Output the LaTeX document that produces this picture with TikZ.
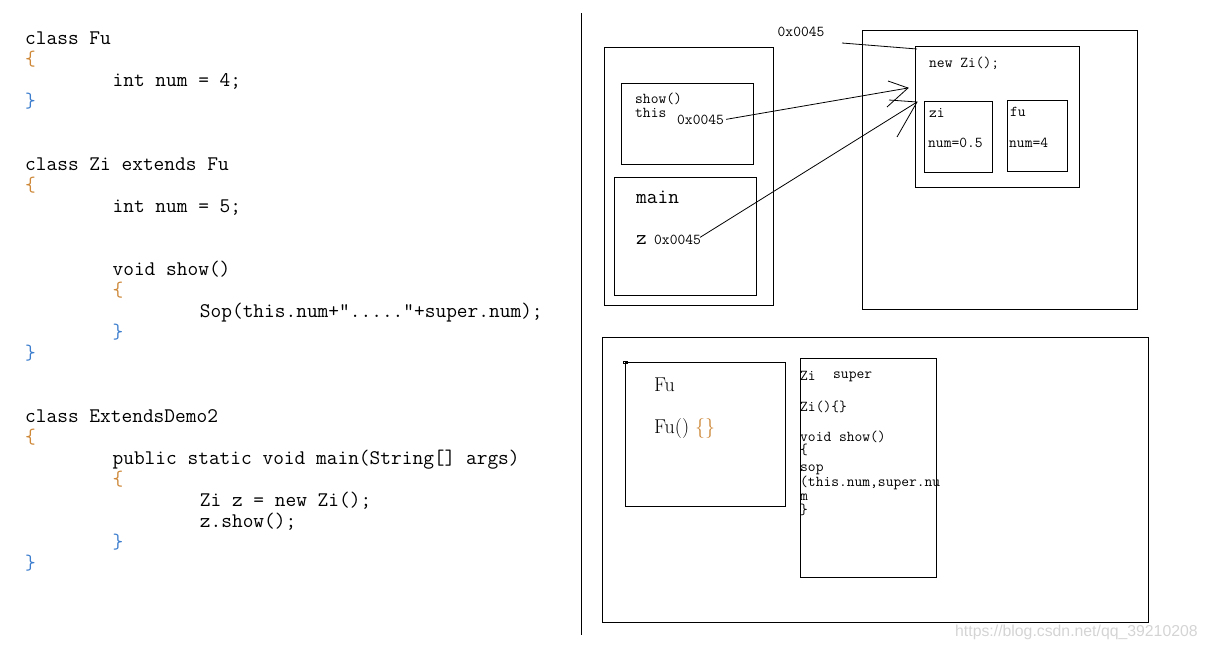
\documentclass[tikz,border=0pt]{standalone}
\usepackage{fontspec}
\newfontfamily\wmfont{Liberation Sans}
\newcommand\codefont{\fontsize{20.8}{21}\selectfont\ttfamily}
\newcommand\smallmono{\fontsize{15.1}{16}\selectfont\ttfamily}
\newcommand\bigserif{\fontsize{20}{22}\selectfont\rmfamily}
\definecolor{braceopen}{RGB}{205,135,55}
\definecolor{braceclose}{RGB}{60,125,205}
\definecolor{wmgray}{RGB}{212,212,212}
\tikzset{
  code/.style={anchor=base west, inner sep=0pt, font=\codefont},
  mono/.style={anchor=base west, inner sep=0pt, font=\smallmono},
  serif/.style={anchor=base west, inner sep=0pt, font=\bigserif},
  frame/.style={draw, line width=1pt, inner sep=0pt, outer sep=0pt},
  wire/.style={line width=0.8pt},
}
\begin{document}
\begin{tikzpicture}[x=1pt, y=-1pt]
\useasboundingbox (0,0) rectangle (1207,648);

% ---------- source code ----------
\node[code] (c1) at (25,44) {class Fu};
\node[code, text=braceopen] (c2) at (25,65) {\{};
\node[code] (c3) at (112.4,86) {int num = 4;};
\node[code, text=braceclose] (c4) at (25,107) {\}};
\node[code] (c5) at (25,170) {class Zi extends Fu};
\node[code, text=braceopen] (c6) at (25,191) {\{};
\node[code] (c7) at (112.4,212) {int num = 5;};
\node[code] (c8) at (112.4,275) {void show()};
\node[code, text=braceopen] (c9) at (112.4,296) {\{};
\node[code] (c10) at (199.7,317) {Sop(this.num+”.....”+super.num);};
\node[code, text=braceclose] (c11) at (112.4,338) {\}};
\node[code, text=braceclose] (c12) at (25,359) {\}};
\node[code] (c13) at (25,422) {class ExtendsDemo2};
\node[code, text=braceopen] (c14) at (25,443) {\{};
\node[code] (c15) at (112.4,464) {public static void main(String[] args)};
\node[code, text=braceopen] (c16) at (112.4,485) {\{};
\node[code] (c17) at (199.7,506) {Zi z = new Zi();};
\node[code] (c18) at (199.7,527) {z.show();};
\node[code, text=braceclose] (c19) at (112.4,548) {\}};
\node[code, text=braceclose] (c20) at (25,569) {\}};

% ---------- divider ----------
\draw[line width=1pt] (581,13) -- (581,635);

% ---------- stack ----------
\node[frame, minimum width=169pt, minimum height=258pt] (stack) at (688.5,176) {};
\node[frame, minimum width=132pt, minimum height=81pt] (showf) at (687,123.5) {};
\node[frame, minimum width=142pt, minimum height=118pt] (mainf) at (685,236) {};
\node[mono] (showlbl) at (635,103) {show()};
\node[mono] (thislbl) at (635,117.5) {this};
\node[mono] (thisaddr) at (677,124) {0x0045};
\node[code] (mainlbl) at (636,203) {main};
\node[code] (zlbl) at (636,244) {z};
\node[mono] (zaddr) at (654,244) {0x0045};

% ---------- heap ----------
\node[frame, minimum width=275pt, minimum height=279pt] (heap) at (999.5,169.5) {};
\node[frame, minimum width=164pt, minimum height=141pt] (obj) at (997,116.5) {};
\node[frame, minimum width=68pt, minimum height=71pt] (zipart) at (958,136.5) {};
\node[frame, minimum width=60pt, minimum height=71pt] (fupart) at (1037,135.5) {};
\node[mono] (newlbl) at (929,67) {new Zi();};
\node[mono] (zilbl) at (929,117) {zi};
\node[mono] (zinum) at (928,147.5) {num=0.5};
\node[mono] (fulbl) at (1010,116) {fu};
\node[mono] (funum) at (1009,147) {num=4};
\node[mono] (objaddr) at (777.5,36.5) {0x0045};

% address line to the object
\coordinate (addrtail) at (842,43);
\coordinate (objtip) at (917,49);
\draw[wire] (addrtail) -- (objtip);

% this -> object
\coordinate (tip1) at (908,88);
\coordinate (tip1a) at (888,81);
\coordinate (tip1b) at (887,107);
\draw[wire] ([xshift=2pt]thisaddr.east) -- (tip1);
\draw[wire] (tip1a) -- (tip1) -- (tip1b);

% z -> object
\coordinate (tip2) at (917,102);
\coordinate (tip2a) at (889,100);
\coordinate (tip2b) at (897,137);
\draw[wire] ([xshift=-1pt,yshift=2pt]zaddr.east) -- (tip2);
\draw[wire] (tip2a) -- (tip2) -- (tip2b);

% ---------- method area ----------
\node[frame, minimum width=546pt, minimum height=285pt] (methods) at (875,479.5) {};
\node[frame, minimum width=160pt, minimum height=144pt] (fuclass) at (705,434) {};
\draw[line width=0.8pt] (623,361) rectangle (627,363.5);
\node[frame, minimum width=136pt, minimum height=219pt] (ziclass) at (868,467.5) {};
\node[serif] (funame) at (654,391.5) {Fu};
\node[serif] (fuctor) at (654,433) {Fu()\ \textcolor{braceopen}{\{\}}};
\node[mono] (ziname) at (800,380) {Zi};
\node[mono] (superlbl) at (833,378) {super};
\node[mono] (zictor) at (800,411) {Zi()\{\}};
\node[mono] (zishow) at (800,441) {void show()};
\node[mono] (ziopen) at (800,454) {\{};
\node[mono] (zisop) at (800,471) {sop};
\node[mono] (ziargs) at (800,486) {(this.num,super.nu};
\node[mono] (zim) at (800,500) {m};
\node[mono] (ziclose) at (800,514) {\}};

% ---------- watermark ----------
\node[anchor=base west, inner sep=0pt, text=wmgray, font=\wmfont\fontsize{15.8}{17}\selectfont] (wm) at (955,636) {https://blog.csdn.net/qq\_39210208};
\end{tikzpicture}
\end{document}
